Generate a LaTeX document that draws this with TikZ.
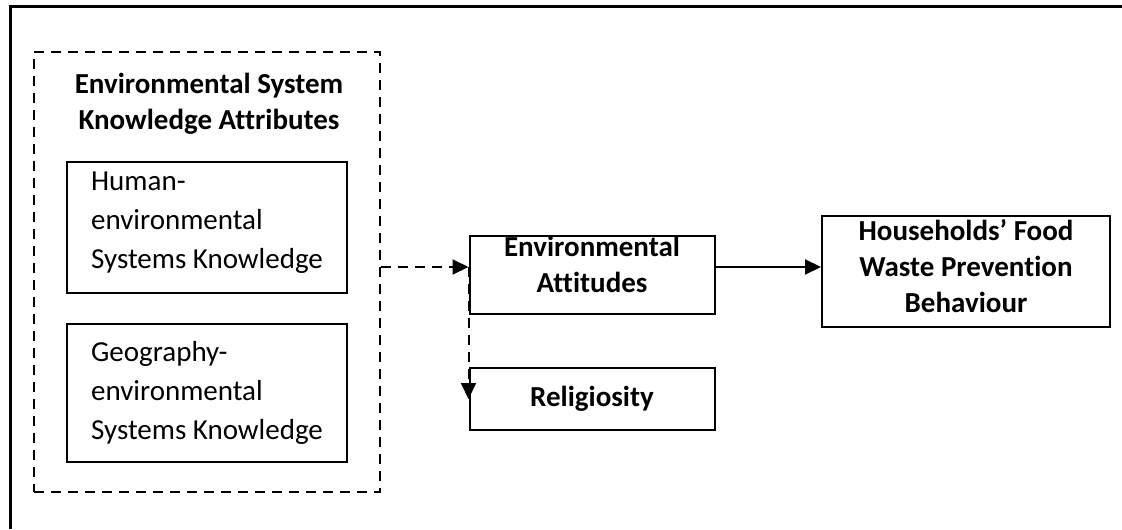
\documentclass[tikz,border=0pt]{standalone}
\usepackage{fontspec}
\setmainfont{Carlito}[Ligatures=NoCommon]
\usetikzlibrary{arrows.meta}
\begin{document}
\begin{tikzpicture}[x=0.5pt, y=-0.5pt,
    every node/.style={inner sep=0pt, font=\fontsize{14.5pt}{19.5pt}\selectfont},
    kbox/.style={draw, line width=1pt, align=left, minimum width=140pt},
    hbox/.style={draw, line width=1pt, align=center, font=\fontsize{14.5pt}{18pt}\selectfont\bfseries},
    dashline/.style={line width=1.4pt, dash pattern=on 5pt off 3.5pt},
    arr/.style={line width=1pt, -{Triangle[length=8pt, width=7.5pt]}}]

    % Page in pixel units: 1122 x 529
    \useasboundingbox (0,0) rectangle (1122,529);

    % Outer frame (right and bottom sides run off the page)
    \draw[line width=1.5pt] (10,529) -- (10,7) -- (1122,7);

    % Knowledge attributes group
    \node[draw, dashline, minimum width=173pt, minimum height=220pt] (know) at (207,272) {};
    \node[font=\fontsize{14.5pt}{18pt}\selectfont\bfseries, align=center] (knowt) at (209,104)
        {Environmental System\\Knowledge Attributes};
    \node[kbox, minimum height=65.5pt] (human) at (207,227.5)
        {Human-\\environmental\\Systems Knowledge\rule[-7.5pt]{0pt}{0pt}};
    \node[kbox, minimum height=69pt] (geo) at (207,393)
        {Geography-\\environmental\\Systems Knowledge};

    % Attitudes, religiosity and behaviour
    \node[hbox, minimum width=122.5pt, minimum height=36pt] (att) at (592,275)
        {Environmental\\Attitudes\rule[-11pt]{0pt}{0pt}};
    \node[hbox, minimum width=122.5pt, minimum height=31pt] (rel) at (592,399) {Religiosity};
    \node[hbox, minimum width=144pt, minimum height=55.5pt] (hh) at (966,271.5)
        {Households’ Food\\Waste Prevention\\Behaviour\rule[-6pt]{0pt}{0pt}};

    % Links
    \coordinate (jn) at ([yshift=4pt]att.west);
    \draw[dashline, arr] (know.east |- jn) -- (jn);
    \draw[dashline, arr] (jn) -- (rel.west);
    \draw[arr] (att.east |- jn) -- (hh.west |- jn);
\end{tikzpicture}
\end{document}
